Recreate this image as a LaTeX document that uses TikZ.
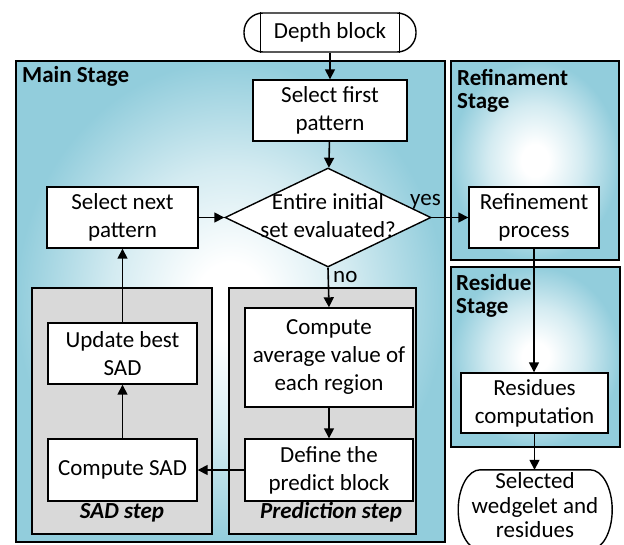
\documentclass[tikz,border=0pt]{standalone}
\usepackage{fontspec}
\setmainfont{Carlito}
\usetikzlibrary{arrows.meta,shapes.geometric,calc}
\definecolor{aqua}{RGB}{146,205,220}
\definecolor{stepgray}{RGB}{217,217,217}
\pgfdeclareradialshading{stageshade}{\pgfpoint{0bp}{0bp}}{color(0bp)=(white); color(4bp)=(white); color(14bp)=(aqua!40!white); color(25bp)=(aqua); color(50bp)=(aqua)}
\begin{document}
\begin{tikzpicture}[x=1pt,y=-1pt,
  txt/.style={font=\fontsize{23}{28}\selectfont},
  proc/.style={draw, fill=white, line width=1.4pt, align=center, inner sep=0pt, txt},
  dia/.style={draw, fill=white, line width=1.4pt, diamond, inner sep=0pt, minimum width=206, minimum height=99},
  arr/.style={line width=1.6pt, -{Triangle[length=10pt,width=10pt]}},
  stage/.style={draw, line width=1.2pt, shading=stageshade},
  stepbox/.style={draw, line width=1.2pt, fill=stepgray},
  slabel/.style={font=\fontsize{23}{23}\selectfont\bfseries, align=left, inner sep=0pt},
  steplabel/.style={font=\fontsize{23}{23}\selectfont\bfseries\itshape, inner sep=0pt, anchor=base},
  small/.style={txt, inner sep=0pt, anchor=base west},
]
\useasboundingbox (0,0) rectangle (624,544);
% containers
\shadedraw[stage] (16,61) rectangle (445,542);
\shadedraw[stage] (451,61) rectangle (619,260);
\shadedraw[stage] (451,267) rectangle (620,447);
\path[stepbox] (32,288) rectangle (212,534);
\path[stepbox] (229,288) rectangle (416,534);
% container labels
\node[slabel, anchor=base west] (lmain) at (22,82) {Main Stage};
\node[slabel, anchor=north west] (lref) at (457,69) {Refinament\\Stage};
\node[slabel, anchor=north west] (lres) at (456,274) {Residue\\Stage};
\node[steplabel] (lsad) at (122,518) {SAD step};
\node[steplabel] (lpred) at (331,518) {Prediction step};
% nodes
\node[proc, rounded corners=19pt, minimum width=172, minimum height=39] (depth) at (330,32.5) {Depth block};
\draw[line width=1.4pt] ($(depth.north west)+(17,0)$) -- ($(depth.south west)+(17,0)$);
\draw[line width=1.4pt] ($(depth.north east)+(-17,0)$) -- ($(depth.south east)+(-17,0)$);
\node[proc, minimum width=154, minimum height=61] (first) at (330,110.5) {Select first\\pattern};
\node[dia] (dec) at (328,217.5) {};
\node[txt, align=center, inner sep=0pt] (dect) at (328,216) {Entire initial\\set evaluated?};
\node[proc, minimum width=151, minimum height=61] (next) at (122.5,217.5) {Select next\\pattern};
\node[proc, minimum width=130, minimum height=61] (refp) at (534,217.5) {Refinement\\process};
\node[proc, minimum width=147, minimum height=60] (resc) at (534.5,403) {Residues\\computation};
\node[proc, minimum width=149, minimum height=61] (upd) at (122.5,353.5) {Update best\\SAD};
\node[proc, minimum width=149, minimum height=62] (csad) at (122.5,470) {Compute SAD};
\node[proc, minimum width=168, minimum height=99] (avg) at (329,357.5) {Compute\\average value of\\each region};
\node[proc, minimum width=168, minimum height=62] (def) at (329,470) {Define the\\predict block};
% terminal
\node[inner sep=0pt, minimum width=154, minimum height=76] (sel) at (535,508) {};
\draw[line width=1.4pt, fill=white] ($(sel.north west)+(22,0)$) -- ($(sel.north east)+(-22,0)$)
  arc[start angle=90, end angle=-90, x radius=22pt, y radius=40pt]
  -- ++(-110pt,0pt)
  arc[start angle=-90, end angle=-270, x radius=22pt, y radius=40pt] -- cycle;
\node[align=center, inner sep=0pt, font=\fontsize{23}{24.5}\selectfont] (selt) at (535,505.5) {Selected\\wedgelet and\\residues};
% labels
\node[small] (yes) at (410,205) {yes};
\node[small] (no) at (333,282) {no};
% connectors
\draw[arr] (depth) -- (first);
\draw[arr] (first) -- (dec);
\draw[arr] (next) -- (dec);
\draw[arr] (dec.east) -- (refp.west);
\draw[arr] (dec.south) -- (avg.north);
\draw[arr] (avg) -- (def);
\draw[arr] (def) -- (csad);
\draw[arr] (csad) -- (upd);
\draw[arr] (upd) -- (next);
\draw[arr] (refp.south) -- (refp.south |- resc.north);
\draw[arr] (resc.south) -- (resc.south |- sel.north);
\end{tikzpicture}
\end{document}
